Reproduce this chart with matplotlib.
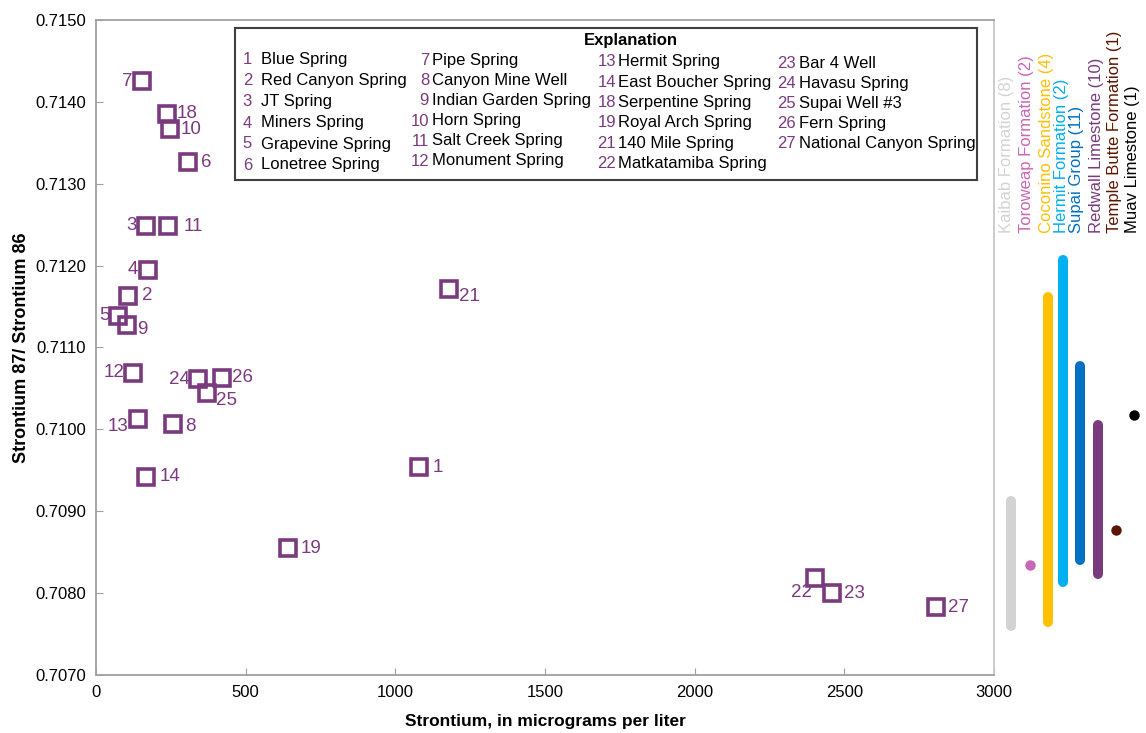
import matplotlib.pyplot as plt
from matplotlib import font_manager

# Spring and well samples: site number, strontium (ug/L), 87Sr/86Sr ratio
site_ids = [1, 2, 3, 4, 5, 6, 7, 8, 9, 10, 11, 12, 13, 14, 18, 19, 21, 22, 23, 24, 25, 26, 27]
strontium = [1080, 108, 168, 173, 75, 308, 154, 258, 104, 248, 242, 125, 139, 168,
             238, 643, 1180, 2401, 2458, 342, 370, 420, 2807]
sr_ratio = [0.70954, 0.71163, 0.71249, 0.71195, 0.71139, 0.71326, 0.71425, 0.71007,
            0.71128, 0.71367, 0.71248, 0.71069, 0.71013, 0.70942, 0.71385, 0.70855,
            0.71171, 0.70818, 0.70800, 0.71061, 0.71045, 0.71063, 0.70783]

site_names = {
    1: "Blue Spring", 2: "Red Canyon Spring", 3: "JT Spring", 4: "Miners Spring",
    5: "Grapevine Spring", 6: "Lonetree Spring", 7: "Pipe Spring", 8: "Canyon Mine Well",
    9: "Indian Garden Spring", 10: "Horn Spring", 11: "Salt Creek Spring",
    12: "Monument Spring", 13: "Hermit Spring", 14: "East Boucher Spring",
    18: "Serpentine Spring", 19: "Royal Arch Spring", 21: "140 Mile Spring",
    22: "Matkatamiba Spring", 23: "Bar 4 Well", 24: "Havasu Spring",
    25: "Supai Well #3", 26: "Fern Spring", 27: "National Canyon Spring",
}
legend_columns = [[1, 2, 3, 4, 5, 6], [7, 8, 9, 10, 11, 12],
                  [13, 14, 18, 19, 21, 22], [23, 24, 25, 26, 27]]

# Rock units: ratio ranges (low, high) and sample counts
formations = ["Kaibab Formation", "Toroweap Formation", "Coconino Sandstone",
              "Hermit Formation", "Supai Group", "Redwall Limestone",
              "Temple Butte Formation", "Muav Limestone"]
formation_counts = [8, 2, 4, 2, 11, 10, 1, 1]
formation_low = [0.70760, 0.70834, 0.70765, 0.70814, 0.70840, 0.70823, 0.70877, 0.71018]
formation_high = [0.70912, 0.70834, 0.71162, 0.71207, 0.71077, 0.71005, 0.70877, 0.71018]
formation_colors = ["#d3d3d3", "#c965b5", "#ffc000", "#00b0f0", "#0070c0",
                    "#7a3a7e", "#5c1600", "#000000"]

# label offsets in pixels (dx, dy) around each square
label_offsets = {
    1: (13, 0), 2: (14, 0), 3: (-10, 0), 4: (-10, 0), 5: (-9, 0), 6: (13, 0),
    7: (-10, 0), 8: (12, 3), 9: (10, 5), 10: (10, 1), 11: (15, 0), 12: (-9, 0),
    13: (-9, 8), 14: (13, 0), 18: (9, -1), 19: (12, 0), 21: (10, 7), 22: (-3, 14),
    23: (12, 0), 24: (-8, 0), 25: (9, 8), 26: (10, 0), 27: (12, 0),
}

installed = {f.name for f in font_manager.fontManager.ttflist}
narrow = "Liberation Sans Narrow" if "Liberation Sans Narrow" in installed else "Liberation Sans"
plt.rcParams["font.family"] = ["Liberation Sans", "DejaVu Sans"]

purple = "#7a3a7e"
W, H = 1146, 733
fig = plt.figure(figsize=(W / 100, H / 100), dpi=100)
ax = fig.add_axes([96 / W, 1 - 675 / H, 898 / W, 655 / H])

ax.plot(strontium, sr_ratio, linestyle="none", marker="s", markersize=11,
        markerfacecolor="none", markeredgecolor=purple, markeredgewidth=2.6)
for sid, x, y in zip(site_ids, strontium, sr_ratio):
    dx, dy = label_offsets[sid]
    ax.annotate(str(sid), (x, y), xytext=(dx * 0.72, -dy * 0.72), textcoords="offset points",
                ha="left" if dx > 0 else "right", va="center", color=purple,
                fontsize=13.5, family=narrow)

ax.set_xlim(0, 3000)
ax.set_ylim(0.7070, 0.7150)
ax.set_xticks(range(0, 3001, 500))
ax.set_yticks([0.7070 + 0.001 * i for i in range(9)])
ax.set_yticklabels([f"{0.7070 + 0.001 * i:.4f}" for i in range(9)])
ax.tick_params(direction="in", length=5, color="#a0a0a0", labelsize=12, pad=7)
for lab in ax.get_xticklabels():
    lab.set_family(narrow)
for side in ["left", "bottom", "top"]:
    ax.spines[side].set_color("#a0a0a0")
ax.spines["right"].set_color("#c8c8c8")
for sp in ax.spines.values():
    sp.set_linewidth(1.3)
ax.set_xlabel("Strontium, in micrograms per liter", fontsize=12.5, fontweight="bold",
              family=narrow, labelpad=10)
ax.set_ylabel("Strontium 87/ Strontium 86", fontsize=13, fontweight="bold",
              family=narrow, labelpad=4)

# Explanation box
lg = fig.add_axes([235 / W, 1 - 180 / H, 742 / W, 152 / H])
lg.set_xlim(0, 742)
lg.set_ylim(152, 0)
lg.set_xticks([])
lg.set_yticks([])
for sp in lg.spines.values():
    sp.set_color("#404040")
    sp.set_linewidth(1.5)
lg.text(396, 13, "Explanation", ha="center", va="center", fontsize=12, fontweight="bold")
col_x = [(17, 26), (194, 197), (381, 383), (561, 564)]
col_y0 = [32, 33, 34, 36]
col_step = [21, 20, 20.3, 19.8]
for col, (nx, tx), y0, step in zip(legend_columns, col_x, col_y0, col_step):
    for i, sid in enumerate(col):
        y = y0 + i * step
        lg.text(nx, y, str(sid), ha="right", va="center", color=purple, fontsize=12)
        lg.text(tx, y, site_names[sid], ha="left", va="center", color="black", fontsize=12)

# Rock-unit ranges to the right of the plot
fx = fig.add_axes([994 / W, 1 - 675 / H, 152 / W, 655 / H], sharey=ax)
fx.set_xlim(0, 152)
fx.axis("off")
bar_x = [16.7, 36, 54, 69.3, 86, 104, 122, 140]
text_x = [12.7, 33, 53, 67.7, 83, 102.7, 121, 139]
for i, name in enumerate(formations):
    c = formation_colors[i]
    if formation_low[i] == formation_high[i]:
        fx.plot(bar_x[i], formation_low[i], marker="o", markersize=7.5, color=c,
                markeredgewidth=0)
    else:
        fx.plot([bar_x[i], bar_x[i]], [formation_low[i], formation_high[i]], color=c,
                linewidth=7.2, solid_capstyle="round")
    fx.text(text_x[i], 0.71240, f"{name} ({formation_counts[i]})", rotation=90,
            ha="center", va="bottom", color=c, fontsize=12)

fig.savefig("out.png", dpi=100)
